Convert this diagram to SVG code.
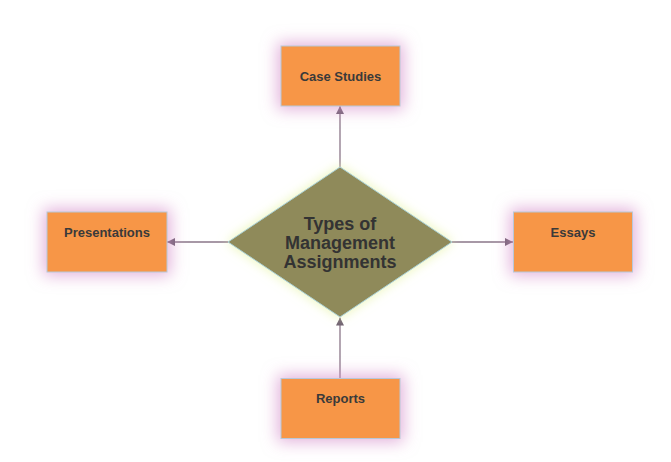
<svg xmlns="http://www.w3.org/2000/svg" width="671" height="462" viewBox="0 0 671 462">
<style>
.box{fill:#f79646;stroke:#b8c8d8;stroke-width:1;filter:url(#pinkglow)}
.lbl{font-family:"Liberation Sans",Arial,sans-serif;font-weight:bold;font-size:13px;fill:#3a3a3a;text-anchor:middle}
.conn{stroke:#8a7688;stroke-width:1.3;fill:none;marker-end:url(#arr)}
.main{font-family:"Liberation Sans",Arial,sans-serif;font-weight:bold;font-size:18px;fill:#333333;text-anchor:middle}
</style>
<defs>
<filter id="pinkglow" x="-50%" y="-60%" width="200%" height="220%">
<feMorphology in="SourceAlpha" operator="dilate" radius="3" result="d"/>
<feGaussianBlur in="d" stdDeviation="8" result="b"/>
<feFlood flood-color="#d690cc" flood-opacity="0.7"/>
<feComposite in2="b" operator="in" result="g"/>
<feMerge><feMergeNode in="g"/><feMergeNode in="SourceGraphic"/></feMerge>
</filter>
<filter id="greenglow" x="-30%" y="-30%" width="160%" height="160%">
<feGaussianBlur in="SourceAlpha" stdDeviation="6" result="b"/>
<feFlood flood-color="#e8f5a8" flood-opacity="0.85"/>
<feComposite in2="b" operator="in" result="g"/>
<feMerge><feMergeNode in="g"/><feMergeNode in="SourceGraphic"/></feMerge>
</filter>
<marker id="arr" viewBox="0 0 10 10" refX="10" refY="5" markerWidth="8" markerHeight="8" markerUnits="userSpaceOnUse" orient="auto">
<path d="M0,0 L10,5 L0,10 z" fill="#6e6070"/>
</marker>
</defs>
<rect width="671" height="462" fill="#ffffff"/>
<g id="connectors">
<line class="conn" x1="340" y1="167" x2="340" y2="106"/>
<line class="conn" x1="228" y1="242" x2="167" y2="242"/>
<line class="conn" x1="452" y1="242" x2="513" y2="242"/>
<line class="conn" x1="340" y1="378" x2="340" y2="317.5"/>
</g>
<g id="center">
<polygon points="340,167 452,242 340,317 228,242" fill="#8f8a5a" stroke="#a8d0d8" stroke-width="1" filter="url(#greenglow)"/>
<text class="main" x="340" y="230">Types of</text>
<text class="main" x="340" y="249">Management</text>
<text class="main" x="340" y="268">Assignments</text>
</g>
<g id="case-studies">
<rect class="box" x="281" y="46" width="119" height="60"/>
<text class="lbl" x="340.5" y="81">Case Studies</text>
</g>
<g id="presentations">
<rect class="box" x="47" y="212" width="120" height="60"/>
<text class="lbl" x="107" y="237">Presentations</text>
</g>
<g id="essays">
<rect class="box" x="513.5" y="212" width="119" height="60"/>
<text class="lbl" x="573" y="237">Essays</text>
</g>
<g id="reports">
<rect class="box" x="281" y="378.5" width="119" height="60"/>
<text class="lbl" x="340.5" y="403">Reports</text>
</g>
</svg>
